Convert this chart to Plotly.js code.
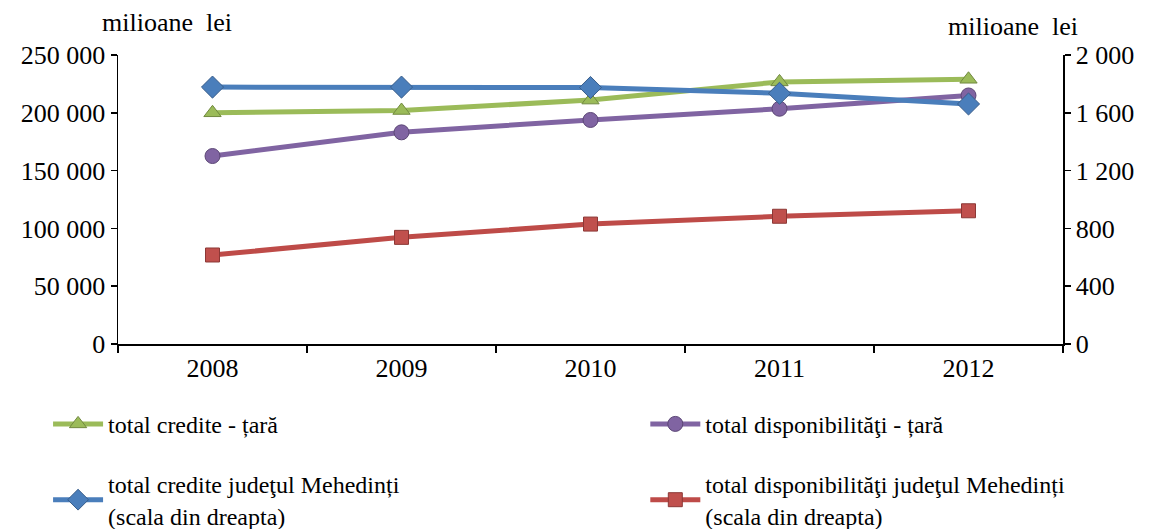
<!DOCTYPE html>
<html>
<head>
<meta charset="utf-8">
<script src="https://cdn.plot.ly/plotly-3.0.1.min.js"></script>
<style>
html,body{margin:0;padding:0;background:#fff;}
#chart{width:1153px;height:529px;}
</style>
</head>
<body>
<div id="chart"></div>
<script>
const years = ['2008', '2009', '2010', '2011', '2012'];
const crediteTara = [200000, 202000, 211000, 226700, 229000];
const disponibilitatiTara = [162600, 183100, 193800, 203500, 215000];
const crediteMehedinti = [1778, 1778, 1775, 1735, 1661];
const disponibilitatiMehedinti = [616, 738, 830, 884, 922];
const leftTickVals = [0, 50000, 100000, 150000, 200000, 250000];
const leftTickText = ['0', '50 000', '100 000', '150 000', '200 000', '250 000'];
const rightTickVals = [0, 400, 800, 1200, 1600, 2000];
const rightTickText = ['0', '400', '800', '1 200', '1 600', '2 000'];
const names = [
  'total credite - țară',
  'total disponibilităţi - țară',
  'total credite judeţul Mehedinți<br>(scala din dreapta)',
  'total disponibilităţi judeţul Mehedinți<br>(scala din dreapta)'
];

const FONT = 'Liberation Serif';
const FONT2 = 'Times New Roman';
const traces = [
  {x: years, y: crediteTara, name: names[0], yaxis: 'y', mode: 'lines+markers', legend: 'legend', legendgroup: 'a',
   line: {color: '#9BBB59', width: 5}, marker: {symbol: 'triangle-up', size: 15, color: '#9BBB59', line: {color: '#71893F', width: 1}}},
  {x: years, y: disponibilitatiTara, name: names[1], yaxis: 'y', mode: 'lines+markers', legend: 'legend2', legendgroup: 'b',
   line: {color: '#8064A2', width: 5}, marker: {symbol: 'circle', size: 15, color: '#8064A2', line: {color: '#5C4776', width: 1}}},
  {x: years, y: crediteMehedinti, name: names[2], yaxis: 'y2', mode: 'lines+markers', legend: 'legend', legendgroup: 'c',
   line: {color: '#4A7EBB', width: 5}, marker: {symbol: 'diamond', size: 17, color: '#4A7EBB', line: {color: '#385D8A', width: 1}}},
  {x: years, y: disponibilitatiMehedinti, name: names[3], yaxis: 'y2', mode: 'lines+markers', legend: 'legend2', legendgroup: 'd',
   line: {color: '#BE4B48', width: 5}, marker: {symbol: 'square', size: 14, color: '#C0504D', line: {color: '#8C3836', width: 1}}}
];

const legendBase = {orientation: 'v', yanchor: 'top', y: -0.2, xanchor: 'left', itemwidth: 50,
  tracegroupgap: 26, traceorder: 'grouped', bgcolor: 'rgba(0,0,0,0)',
  font: {family: FONT2, size: 24, color: '#000'}};

const layout = {
  width: 1153, height: 529,
  margin: {l: 118, r: 90, t: 55, b: 185, autoexpand: false},
  paper_bgcolor: '#fff', plot_bgcolor: '#fff',
  font: {family: FONT, size: 26, color: '#000'},
  showlegend: true,
  legend: Object.assign({}, legendBase, {x: -0.074}),
  legend2: Object.assign({}, legendBase, {x: 0.558}),
  xaxis: {type: 'category', range: [-0.5, 4.5], showline: true, linecolor: '#000', linewidth: 1.5,
          ticks: 'outside', ticklen: 7, tickcolor: '#000', tickwidth: 1.5, tickson: 'boundaries',
          showgrid: false, zeroline: false, tickfont: {family: FONT, size: 26, color: '#000'}},
  yaxis: {range: [0, 250000], tickmode: 'array', tickvals: leftTickVals, ticktext: leftTickText, ticksuffix: '   ',
          showline: true, linecolor: '#000', linewidth: 1.5,
          ticks: 'outside', ticklen: 6, tickcolor: '#000', tickwidth: 1.5, showgrid: false, zeroline: false,
          tickfont: {family: FONT, size: 26, color: '#000'}},
  yaxis2: {range: [0, 2000], tickmode: 'array', tickvals: rightTickVals, ticktext: rightTickText, tickprefix: '     ',
           overlaying: 'y', side: 'right',
           showline: true, linecolor: '#000', linewidth: 1.5, ticks: 'outside', ticklen: 6, tickcolor: '#000', tickwidth: 1.5,
           showgrid: false, zeroline: false, tickfont: {family: FONT, size: 26, color: '#000'}},
  annotations: [
    {text: 'milioane  lei', xref: 'paper', yref: 'paper', x: -0.019, y: 1.114, xanchor: 'left', yanchor: 'middle', showarrow: false,
     font: {family: FONT2, size: 26, color: '#000'}},
    {text: 'milioane  lei', xref: 'paper', yref: 'paper', x: 1.018, y: 1.097, xanchor: 'right', yanchor: 'middle', showarrow: false,
     font: {family: FONT2, size: 26, color: '#000'}}
  ]
};
Plotly.newPlot('chart', traces, layout, {displayModeBar: false, staticPlot: true});
</script>
</body>
</html>
